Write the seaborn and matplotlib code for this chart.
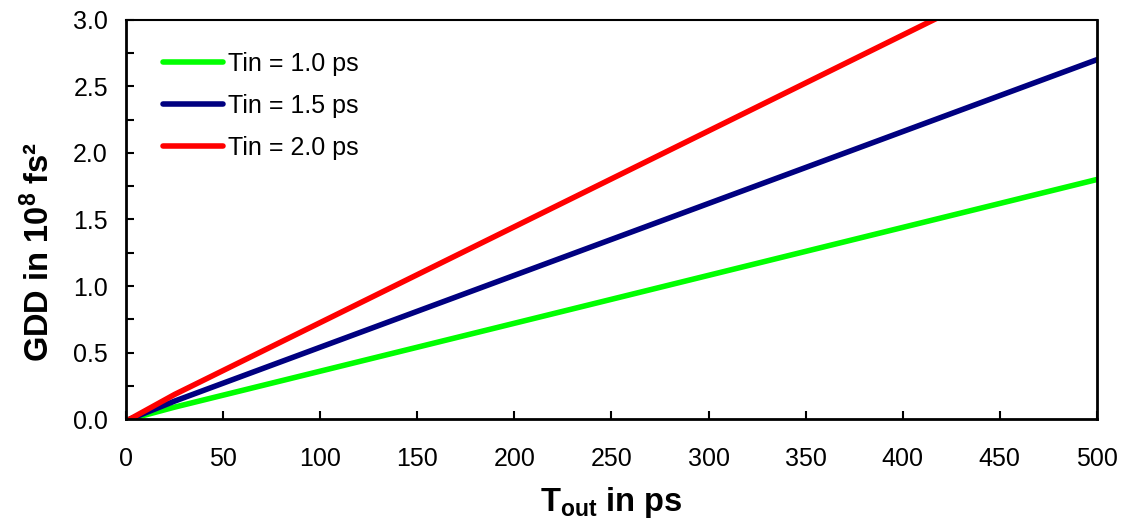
import matplotlib
matplotlib.use("Agg")
import matplotlib.pyplot as plt
from matplotlib.ticker import MultipleLocator, FormatStrFormatter
import pandas as pd
import seaborn as sns

# Output pulse duration (ps)
tout = [2, 25, 50, 75, 100, 125, 150, 175, 200, 225, 250,
        275, 300, 325, 350, 375, 400, 425, 450, 475, 500]

# Required GDD (10^8 fs^2) for each input pulse duration
gdd_tin_10 = [0.000, 0.090, 0.180, 0.270, 0.360, 0.450, 0.540, 0.630, 0.720, 0.810, 0.900,
              0.990, 1.080, 1.170, 1.260, 1.350, 1.440, 1.530, 1.620, 1.710, 1.800]
gdd_tin_15 = [0.000, 0.135, 0.270, 0.405, 0.540, 0.675, 0.810, 0.945, 1.080, 1.215, 1.350,
              1.485, 1.620, 1.755, 1.890, 2.025, 2.160, 2.295, 2.430, 2.565, 2.700]
gdd_tin_20 = [0.000, 0.185, 0.365, 0.545, 0.725, 0.905, 1.085, 1.265, 1.445, 1.625, 1.805,
              1.985, 2.165, 2.345, 2.525, 2.705, 2.885, 3.065, 3.245, 3.425, 3.605]

labels = ["Tin = 1.0 ps", "Tin = 1.5 ps", "Tin = 2.0 ps"]
colors = ["#00ff00", "#000080", "#ff0000"]

df = pd.concat([
    pd.DataFrame({"Tout": tout, "GDD": g, "series": lab})
    for g, lab in zip([gdd_tin_10, gdd_tin_15, gdd_tin_20], labels)
])

sns.set_theme(style="white")
plt.rcParams["font.family"] = ["Liberation Sans", "DejaVu Sans"]
plt.rcParams["mathtext.fontset"] = "custom"
plt.rcParams["mathtext.rm"] = "Liberation Sans"
plt.rcParams["mathtext.bf"] = "Liberation Sans:bold"
plt.rcParams["mathtext.it"] = "Liberation Sans:italic"
plt.rcParams["text.color"] = "black"
plt.rcParams["axes.labelcolor"] = "black"

fig = plt.figure(figsize=(11.25, 5.2), dpi=100)
ax = fig.add_axes([0.112, 0.194, 0.863, 0.768])

sns.lineplot(data=df, x="Tout", y="GDD", hue="series", hue_order=labels,
             palette=colors, linewidth=4.0, ax=ax, legend=True,
             solid_capstyle="round")

ax.set_xlim(0, 500)
ax.set_ylim(0, 3.0)
ax.xaxis.set_major_locator(MultipleLocator(50))
ax.yaxis.set_major_locator(MultipleLocator(0.5))
ax.yaxis.set_minor_locator(MultipleLocator(0.25))
ax.yaxis.set_major_formatter(FormatStrFormatter("%.1f"))

ax.tick_params(axis="both", which="both", direction="in", length=6, width=1.5,
               colors="black", labelsize=18)
ax.tick_params(axis="x", which="major", bottom=True, pad=20)
ax.tick_params(axis="y", which="both", left=True, pad=13)

for side in ["left", "bottom", "right"]:
    ax.spines[side].set_color("black")
    ax.spines[side].set_linewidth(2)
ax.spines["top"].set_color("black")
ax.spines["top"].set_linewidth(1.5)

ax.set_xlabel(r"$\mathbf{T_{out}}$ in ps", fontsize=23.5, fontweight="bold", labelpad=10)
ax.set_ylabel(r"GDD in 10$^{\mathbf{8}}$ fs²", fontsize=23.5, fontweight="bold")
ax.yaxis.set_label_coords(-0.072, 0.419)

leg = ax.legend(loc="upper left", frameon=False, fontsize=18, handlelength=2.4,
                handletextpad=0.2, labelspacing=0.72, borderaxespad=0.0,
                bbox_to_anchor=(0.028, 0.945))
for line in leg.get_lines():
    line.set_linewidth(4.0)

fig.savefig("out.png", dpi=100)
